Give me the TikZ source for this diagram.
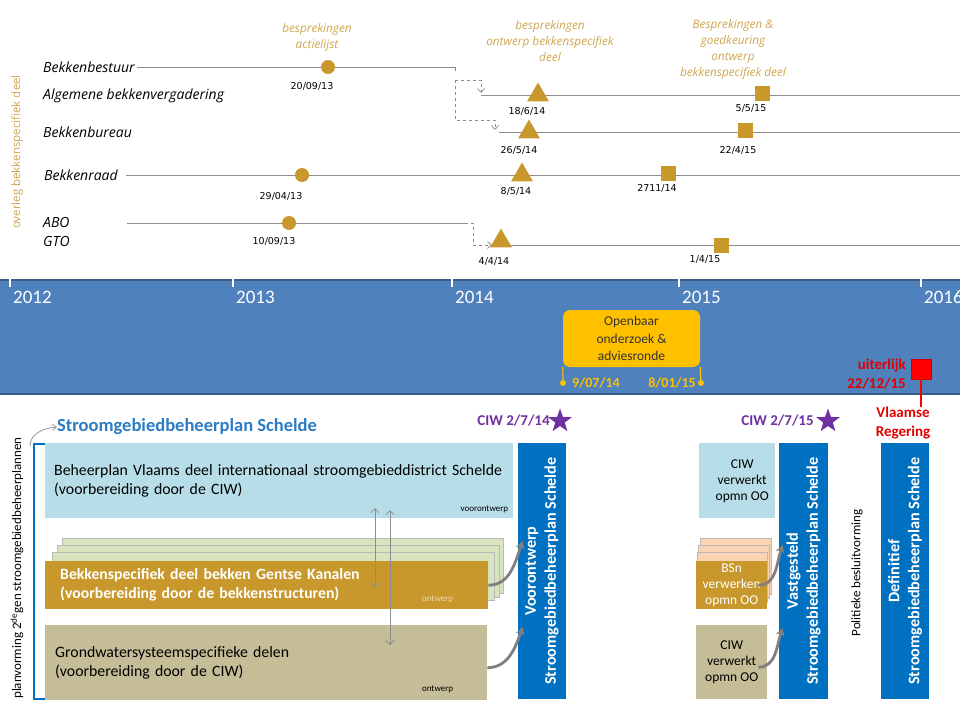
\documentclass[tikz,border=0pt]{standalone}
\usepackage{fontspec}
\setmainfont{Carlito}
\newfontfamily\segoe{Open Sans}
\newfontfamily\verdana{DejaVu Sans}
\usetikzlibrary{shapes.geometric, arrows.meta, positioning, calc}

\definecolor{goud}{HTML}{C9982C}
\definecolor{goudtekst}{HTML}{CFA54E}
\definecolor{lijngrijs}{HTML}{8C8C8C}
\definecolor{boggrijs}{HTML}{7F7F7F}
\definecolor{bandblauw}{HTML}{4F81BD}
\definecolor{bandrand}{HTML}{395E89}
\definecolor{balkblauw}{HTML}{0070C0}
\definecolor{titelblauw}{HTML}{2C7BC4}
\definecolor{lichtblauw}{HTML}{B7DDE8}
\definecolor{lichtgroen}{HTML}{D7E4BD}
\definecolor{zand}{HTML}{C4BD97}
\definecolor{perzik}{HTML}{FBD4B4}
\definecolor{oranjegeel}{HTML}{FFC000}
\definecolor{paars}{HTML}{7030A0}
\definecolor{rood}{HTML}{FF0000}
\definecolor{donkerrood}{HTML}{E00000}

\begin{document}
\begin{tikzpicture}[x=1pt, y=-1pt,
        orgaan/.style={font=\segoe\itshape\fontsize{14}{16}\selectfont, anchor=west, inner sep=0pt},
        datum/.style={font=\verdana\fontsize{9.5}{11}\selectfont, inner sep=0pt},
        overleg/.style={font=\segoe\itshape\fontsize{11.8}{16}\selectfont, text=goudtekst, align=center, inner sep=0pt},
        tijdlijn/.style={draw=lijngrijs, line width=1pt},
        doorgeef/.style={draw=lijngrijs, dashed, line width=0.7pt, -{Straight Barb[length=4pt, width=7pt]}},
        stip/.style={circle, fill=goud, minimum size=14pt, inner sep=0pt},
        driehoek/.style={regular polygon, regular polygon sides=3, fill=goud, minimum size=25pt, inner sep=0pt},
        blokje/.style={rectangle, fill=goud, minimum size=15pt, inner sep=0pt},
        jaar/.style={font=\fontsize{19}{20}\selectfont, text=white, anchor=west, inner sep=0pt},
        oodatum/.style={font=\bfseries\fontsize{14}{16}\selectfont, text=oranjegeel, inner sep=0pt},
        vak/.style={rectangle, anchor=north west, inner sep=0pt, align=left, font=\fontsize{15.8}{19}\selectfont},
        stapel/.style={rectangle, anchor=north west, draw=gray!55, line width=0.6pt, inner sep=0pt},
        klein/.style={font=\fontsize{9}{10}\selectfont, anchor=south east, inner sep=0pt},
        kolom/.style={rectangle, fill=balkblauw, text=white, rotate=90, minimum width=256pt, minimum height=48pt, inner sep=0pt, align=center, font=\bfseries\fontsize{16.2}{20}\selectfont},
        ciw/.style={font=\bfseries\fontsize{15}{17}\selectfont, text=paars, anchor=east, inner sep=0pt},
        ster/.style={star, star points=5, star point ratio=2.5, fill=paars, minimum size=25pt, inner sep=0pt},
        boog/.style={draw=boggrijs, line width=2.8pt, -{Stealth[length=8pt, width=9pt]}},
        tweezijdig/.style={draw=lijngrijs, line width=0.8pt, {Straight Barb[length=4pt, width=8pt]}-{Straight Barb[length=4pt, width=8pt]}},
        rodetekst/.style={font=\bfseries\fontsize{15}{19.5}\selectfont, text=donkerrood, inner sep=0pt}
    ]
    \useasboundingbox (0,0) rectangle (960,720);

    % overleg bekkenspecifiek deel
    \node[rotate=90, font=\segoe\fontsize{11.5}{12}\selectfont, text=goudtekst] (overleg) at (17,152) {overleg bekkenspecifiek deel};

    \node[orgaan] (bestuur) at (43,67) {Bekkenbestuur};
    \node[orgaan] (vergadering) at (43,96) {Algemene bekkenvergadering};
    \node[orgaan] (bureau) at (43,132) {Bekkenbureau};
    \node[orgaan] (raad) at (44,175) {Bekkenraad};
    \node[orgaan] (abo) at (43,222) {ABO};
    \node[orgaan] (gto) at (43,241) {GTO};

    % tijdlijnen
    \coordinate (bestuurEind) at (455,67);
    \coordinate (splits) at (455,80);
    \coordinate (vergaderingIn) at (481,93);
    \coordinate (bureauIn) at (495,130);
    \coordinate (aboEind) at (465,223);
    \coordinate (gtoIn) at (492,245);
    \draw[tijdlijn] ([xshift=2pt]bestuur.east) -- (bestuurEind) -- ++(0,4);
    \draw[doorgeef] (splits) -| (vergaderingIn);
    \draw[doorgeef] (splits) -- (455,120) -| (bureauIn);
    \draw[tijdlijn] (481,95) -- (962,95);
    \draw[tijdlijn] (499,132) -- (962,132);
    \draw[tijdlijn] ([xshift=8pt]raad.east) -- (962,175);
    \draw[tijdlijn] (127,223) -- (aboEind);
    \draw[doorgeef] (aboEind) -- (473,223) |- (gtoIn);
    \draw[tijdlijn] (493,245) -- (962,245);

    % bijeenkomsten
    \node[stip] (bestuur1) at (328,67) {};
    \node[datum] at (312,86) {20/09/13};
    \node[overleg] at (317,37) {besprekingen\\actielijst};

    \node[stip] (raad1) at (302,175) {};
    \node[datum] at (281,196) {29/04/13};
    \node[stip] (abo1) at (289,223) {};
    \node[datum] at (274,241) {10/09/13};

    \node[driehoek] (vergadering1) at (538,95) {};
    \node[datum] at (527,111) {18/6/14};
    \node[driehoek] (bureau1) at (529,132) {};
    \node[datum] at (519,150) {26/5/14};
    \node[driehoek] (raad2) at (522,175) {};
    \node[datum] at (516,191) {8/5/14};
    \node[driehoek] (gto1) at (501,241) {};
    \node[datum] at (494,261) {4/4/14};
    \node[overleg] at (550,41) {besprekingen\\ontwerp bekkenspecifiek\\deel};

    \node[blokje] (vergadering2) at (762,93) {};
    \node[datum] at (751,108) {5/5/15};
    \node[blokje] (bureau2) at (745,130) {};
    \node[datum] at (738,150) {22/4/15};
    \node[blokje] (raad3) at (668,173) {};
    \node[datum] at (657,188) {2711/14};
    \node[blokje] (gto2) at (721,245) {};
    \node[datum] at (705,259) {1/4/15};
    \node[overleg] at (733,49) {Besprekingen \&\\goedkeuring\\ontwerp\\bekkenspecifiek deel};

    % jaarband
    \node[rectangle, fill=bandblauw, draw=bandrand, line width=1.5pt, minimum width=964pt, minimum height=114pt, anchor=north west, inner sep=0pt] (band) at (-2,279) {};
    \foreach \x/\jr in {10/2012, 233/2013, 452/2014, 679/2015, 921/2016} {
        \draw[white, line width=2.5pt] (\x,276) -- (\x,287);
        \node[jaar] at (\x+3,297) {\jr};
    }

    % openbaar onderzoek
    \node[rectangle, rounded corners=7pt, fill=oranjegeel, minimum width=137pt, minimum height=57pt, align=center, font=\fontsize{13.5}{17.5}\selectfont, text=black!80] (oo) at (631.5,338.5) {Openbaar\\onderzoek \&\\adviesronde};
    \node[circle, fill=oranjegeel, minimum size=6pt, inner sep=0pt] (ooBegin) at (563,383) {};
    \node[circle, fill=oranjegeel, minimum size=6pt, inner sep=0pt] (ooEind) at (701,383) {};
    \draw[oranjegeel, line width=1.2pt] (oo.south west) -- (ooBegin);
    \draw[oranjegeel, line width=1.2pt] (oo.south east) -- (ooEind);
    \node[oodatum, anchor=west] at ([xshift=9pt]ooBegin.center) {9/07/14};
    \node[oodatum, anchor=east] at ([xshift=-5pt]ooEind.center) {8/01/15};

    % uiterlijke datum
    \node[rectangle, fill=rood, draw=rood!80!black, line width=0.5pt, minimum size=20pt, inner sep=0pt] (uiterlijk) at (921,369.5) {};
    \node[rodetekst, align=right, anchor=east] (uiterlijkTekst) at (906,374) {uiterlijk\\22/12/15};
    \node[rodetekst, align=center] (regering) at (903,423) {Vlaamse\\Regering};
    \draw[rood, line width=2pt] (uiterlijk.south) -- (uiterlijk.south |- regering.north);

    % stroomgebiedbeheerplan
    \node[font=\bfseries\fontsize{18.5}{20}\selectfont, text=titelblauw, anchor=west, inner sep=0pt] (sgbp) at (57,427) {Stroomgebiedbeheerplan Schelde};
    \coordinate (haak) at (30,446);
    \draw[draw=lijngrijs, line width=0.7pt, -{Straight Barb[length=4pt, width=6pt]}] (haak) to[out=90, in=185] (sgbp.west);
    \draw[draw=balkblauw, line width=2.5pt] (45,444) -- (34,444) -- (34,699) -- (45,699);
    \node[rotate=90, font=\fontsize{13}{15}\selectfont] (planvorming) at (17,568) {planvorming 2\textsuperscript{de}gen stroomgebiedbeheerplannen};

    \node[vak, fill=lichtblauw, minimum width=468pt, minimum height=75pt, text width=450pt, inner xsep=9pt] (beheerplan) at (45,443) {Beheerplan Vlaams deel internationaal stroomgebieddistrict Schelde\\(voorbereiding door de CIW)};
    \node[klein] at ([xshift=-5pt, yshift=5pt]beheerplan.south east) {voorontwerp};

    \node[stapel, fill=lichtgroen, minimum width=441pt, minimum height=55pt] (groen3) at (62,538) {};
    \node[stapel, fill=lichtgroen, minimum width=442pt, minimum height=52pt] (groen2) at (57,545) {};
    \node[stapel, fill=lichtgroen, minimum width=442pt, minimum height=48pt] (groen1) at (52,552) {};
    \node[vak, fill=goud, text=white, font=\bfseries\fontsize{15.7}{19}\selectfont, minimum width=443pt, minimum height=48pt, text width=413pt, inner xsep=15pt] (bekken) at (45,561) {Bekkenspecifiek deel bekken Gentse Kanalen\\(voorbereiding door de bekkenstructuren)};
    \node[klein, text=goud!35] at ([xshift=-35pt, yshift=6pt]bekken.south east) {ontwerp};

    \node[vak, fill=zand, minimum width=442pt, minimum height=75pt, text width=422pt, inner xsep=10pt] (grondwater) at (45,625) {Grondwatersysteemspecifieke delen\\(voorbereiding door de CIW)};
    \node[klein] at ([xshift=-34pt, yshift=7pt]grondwater.south east) {ontwerp};

    \coordinate (afstemA1) at (375,508);
    \coordinate (afstemA2) at (375,587);
    \coordinate (afstemB1) at (390,510);
    \coordinate (afstemB2) at (390,645);
    \draw[tweezijdig] (afstemA1) -- (afstemA2);
    \draw[tweezijdig] (afstemB1) -- (afstemB2);

    % voorontwerp
    \node[kolom] (voor) at (542,571) {Voorontwerp\\Stroomgebiedbeheerplan Schelde};
    \node[ster] (ster1) at (560,421) {};
    \node[ciw] at ([xshift=-3pt]ster1.west) {CIW 2/7/14};
    \draw[boog] (bekken.east) to[out=0, in=250] ([xshift=5pt, yshift=30pt]voor.north);
    \draw[boog] ([yshift=-5pt]grondwater.east) to[out=0, in=250] ([xshift=5pt, yshift=-56pt]voor.north);

    % verwerking opmerkingen
    \node[vak, fill=lichtblauw, minimum width=76pt, minimum height=75pt, align=center, font=\fontsize{13.5}{16}\selectfont, inner xsep=5pt] (ciwA) at (699,443) {\hspace*{10pt}CIW\\\hspace*{10pt}verwerkt\\\hspace*{10pt}opmn OO};
    \node[stapel, fill=perzik, minimum width=71pt, minimum height=56pt] (perzik3) at (700,538) {};
    \node[stapel, fill=perzik, minimum width=71pt, minimum height=53pt] (perzik2) at (698,545) {};
    \node[stapel, fill=perzik, minimum width=70pt, minimum height=50pt] (perzik1) at (697,552) {};
    \node[vak, fill=goud, text=white, minimum width=71pt, minimum height=48pt, align=center, font=\fontsize{13.5}{16}\selectfont] (bsn) at (696,561) {BSn\\verwerken\\opmn OO};
    \node[vak, fill=zand, minimum width=71pt, minimum height=74pt, align=center, font=\fontsize{13.5}{16}\selectfont] (ciwB) at (696,625) {CIW\\verwerkt\\opmn OO};

    % vastgesteld
    \node[kolom, minimum height=49pt] (vast) at (803.5,571) {Vastgesteld\\Stroomgebiedbeheerplan Schelde};
    \node[ster] (ster2) at (828,421) {};
    \node[ciw] at ([xshift=-7pt]ster2.west) {CIW 2/7/15};
    \draw[boog] ([xshift=-9pt]bsn.east) to[out=0, in=250] ([xshift=4pt, yshift=26pt]vast.north);
    \draw[boog] ([xshift=-9pt, yshift=-5pt]ciwB.east) to[out=0, in=250] ([xshift=4pt, yshift=-57pt]vast.north);

    % definitief
    \node[rotate=90, font=\fontsize{13}{14}\selectfont, inner sep=0pt] (politiek) at (857,573) {Politieke besluitvorming};
    \node[kolom] (definitief) at (905,571) {Definitief\\Stroomgebiedbeheerplan Schelde};

\end{tikzpicture}
\end{document}
